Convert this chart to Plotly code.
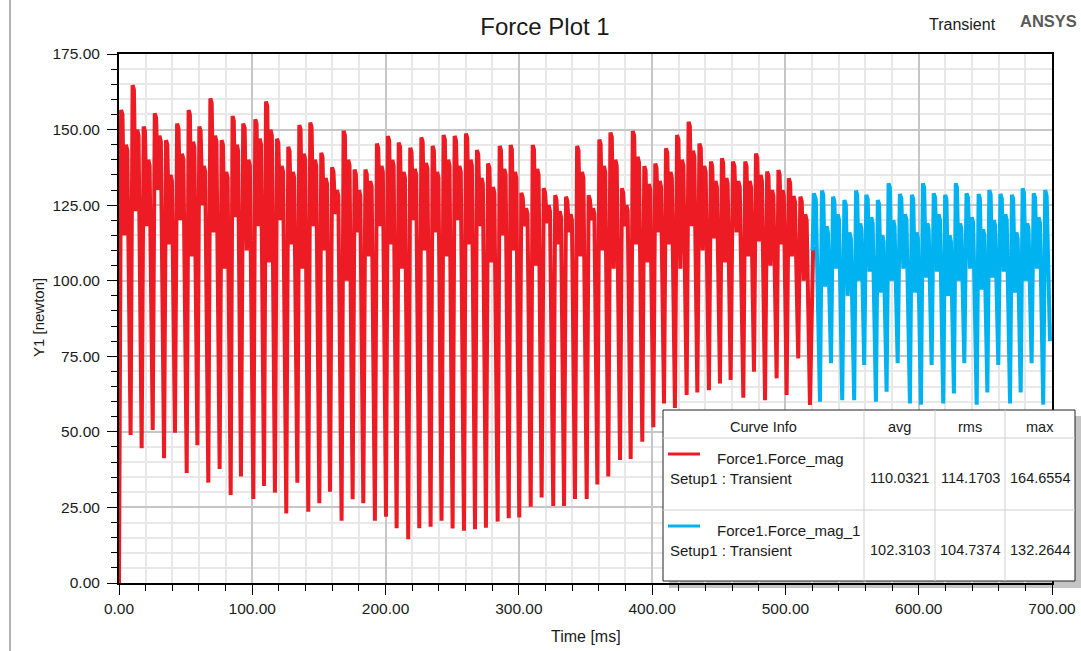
import plotly.graph_objects as go

# ---------------- data ----------------
# Red curve (Force1.Force_mag): deep troughs (time ms, newton)
red_trough_t = [0, 8.7, 17.0, 25.3, 33.8, 42.0, 50.8, 58.8, 67.0, 75.5,
                83.8, 91.5, 100.8, 108.8, 117.0, 125.5, 133.8, 142.0, 150.3, 158.3,
                167.0, 175.3, 183.3, 192.0, 200.3, 208.3, 217.0, 225.3, 233.8, 242.0,
                250.3, 258.8, 267.1, 275.3, 284.1, 292.4, 300.3, 308.9, 317.1, 325.8,
                333.9, 342.1, 350.9, 358.9, 367.1, 375.9, 383.9, 392.6, 400.9, 408.9,
                417.1, 425.9, 433.9, 442.6, 450.9, 458.9, 468.4, 476.4, 484.7, 493.4,
                500.9, 509.6, 518.4]
red_trough_v = [0, 49, 44.6, 50.6, 41.3, 49.7, 36.4, 45.6, 33.2, 37.7,
                29.1, 35.2, 27.8, 32.1, 29.9, 23.0, 33.2, 23.6, 26.4, 30.2,
                20.6, 27.7, 26.4, 20.6, 21.9, 18.1, 14.5, 18.1, 18.6, 20.6,
                18.0, 17.3, 17.8, 18.3, 20.3, 21.4, 21.7, 25.2, 28.3, 25.5,
                25.5, 27.8, 27.8, 32.6, 35.2, 40.7, 41.0, 46.7, 51.5, 59.4,
                57.9, 62.2, 63.0, 63.8, 66.0, 67.2, 61.3, 69.9, 60.5, 67.7,
                62.2, 74.3, 58.9]
# per cycle: main peak, inner dip, second peak
red_peak_v = [156.5, 164.7, 151, 155.4, 146.5, 152, 156.5, 151, 160.3, 146.5,
              154.5, 152, 153.4, 159.3, 147, 144.3, 151.5, 152.3, 142.3, 137.5,
              149.6, 136.8, 136.8, 145.4, 147.9, 145.7, 144, 147.4, 144.6, 148.2,
              147.9, 148.7, 143.2, 138.8, 144.6, 144.9, 129.1, 144.9, 130.6, 128.3,
              127.8, 144.6, 128.3, 146.7, 149, 130.6, 149.5, 137.9, 138.8, 143.8,
              148.2, 152.6, 145.4, 139.4, 140.5, 139.4, 139.4, 142.1, 136.1, 136.6,
              133.9, 127.8]
red_mid_v = [115, 123, 118, 130, 112, 120, 108, 125, 116, 104,
             121, 110, 118, 106, 120, 112, 104, 118, 110, 122,
             100, 116, 108, 118, 112, 104, 120, 110, 116, 108,
             120, 112, 118, 106, 115, 110, 118, 105, 119, 112,
             116, 108, 120, 110, 104, 118, 112, 106, 116, 112,
             104, 118, 110, 114, 106, 116, 108, 113, 105, 112,
             108, 100]
red_peak2_v = [145, 150, 140, 148, 135, 142, 146, 138, 148, 136,
               145, 140, 147, 150, 138, 136, 142, 140, 134, 130,
               140, 130, 133, 138, 140, 136, 137, 139, 136, 140,
               138, 140, 134, 131, 137, 136, 124, 137, 125, 123,
               122, 136, 124, 138, 140, 125, 141, 132, 133, 136,
               140, 143, 138, 133, 134, 133, 133, 135, 130, 130,
               128, 122]
red_end = (520.8, 111.2)

# Blue curve (Force1.Force_mag_1)
blue_start = (520.3, 110.0)
blue_first_peak = 128.9
blue_trough_t = [525.9, 534.2, 542.6, 551.6, 559.1, 567.9, 575.9, 584.2, 593.4, 601.7,
                 609.7, 618.4, 626.4, 634.2, 643.5, 651.5, 659.7, 668.5, 676.5, 684.7,
                 693.4]
blue_trough_v = [60, 72.7, 60.5, 60.5, 72.1, 60, 63.3, 72.7, 59.4, 59,
                 72.1, 59.4, 62.7, 72.7, 59, 63, 72.1, 59.4, 63, 72.7,
                 59]
blue_peak_v = [129.8, 127.8, 126.7, 129.8, 128.4, 126.7, 132.2, 128.7, 128.4, 132.2,
               128.9, 128.4, 132.2, 128.9, 128.7, 130, 128.7, 128.4, 130.6, 128.9]
blue_mid_v = [98, 104, 95, 100, 103, 96, 100, 104, 96, 101,
              103, 95, 100, 104, 97, 101, 103, 96, 100, 104]
blue_peak2_v = [118, 122, 116, 119, 121, 115, 120, 122, 116, 119,
                122, 115, 119, 121, 117, 120, 122, 116, 119, 121]
blue_last_peak = 130.0
blue_end = (698.5, 80.0)

# legend table
table_header = ["Curve Info", "avg", "rms", "max"]
curve_names = ["Force1.Force_mag", "Force1.Force_mag_1"]
curve_setup = ["Setup1 : Transient", "Setup1 : Transient"]
curve_avg = ["110.0321", "102.3103"]
curve_rms = ["114.1703", "104.7374"]
curve_max = ["164.6554", "132.2644"]

RED = "#ed1c24"
BLUE = "#00b2f0"
TXT = "#1a1a1a"

# where inside a cycle the peak, its plateau end, the dip, the 2nd peak and its plateau end sit
PH = [0.18, 0.3, 0.46, 0.6, 0.72]


def build(tt, tv, pk, md, pk2):
    xs, ys = [], []
    for i in range(len(tt) - 1):
        t0, d = tt[i], tt[i + 1] - tt[i]
        xs += [t0] + [t0 + f * d for f in PH]
        ys += [tv[i], pk[i], pk[i] - 1.5, md[i], pk2[i], pk2[i] - 2]
    xs.append(tt[-1])
    ys.append(tv[-1])
    return xs, ys


rx, ry = build(red_trough_t, red_trough_v, red_peak_v, red_mid_v, red_peak2_v)
rx.append(red_end[0]); ry.append(red_end[1])

bx, by = build(blue_trough_t, blue_trough_v, blue_peak_v, blue_mid_v, blue_peak2_v)
bx = [blue_start[0], blue_start[0] + 1.0, blue_start[0] + 2.5] + bx + \
     [blue_trough_t[-1] + 1.5, blue_trough_t[-1] + 2.6, blue_end[0]]
by = [blue_start[1], blue_first_peak, blue_first_peak - 2] + by + \
     [blue_last_peak, blue_last_peak - 2, blue_end[1]]

fig = go.Figure()
fig.add_trace(go.Scatter(x=rx, y=ry, mode="lines", line=dict(color=RED, width=4),
                         name=curve_names[0], hoverinfo="skip"))
fig.add_trace(go.Scatter(x=bx, y=by, mode="lines", line=dict(color=BLUE, width=4),
                         name=curve_names[1], hoverinfo="skip"))

# ---------------- layout ----------------
W, H = 1081, 651
L, R, T, B = 119, 1052, 54, 583


def px(x):
    return (x - L) / (R - L)


def py(y):
    return (B - y) / (B - T)


axis_common = dict(
    showgrid=True, gridcolor="#c6c6c6", gridwidth=2,
    ticks="outside", tickcolor="black", tickwidth=1,
    showline=True, linecolor="black", linewidth=2, mirror=True,
    zeroline=False, tickformat=".2f", automargin=False,
    tickfont=dict(size=15.5, color=TXT),
)

fig.update_layout(
    width=W, height=H,
    margin=dict(l=L, r=W - R, t=T, b=H - B, autoexpand=False),
    paper_bgcolor="white", plot_bgcolor="white",
    showlegend=False,
    font=dict(family="Liberation Sans, Arial, sans-serif", color=TXT),
    title=dict(text="Force Plot 1", x=545 / W, xanchor="center",
               y=1 - 27 / H, yanchor="middle", yref="container",
               font=dict(size=24, color=TXT)),
    xaxis=dict(range=[0, 700], dtick=100, tick0=0, ticklen=10,
               minor=dict(dtick=20, showgrid=True, gridcolor="#e8e8e8", gridwidth=1.5,
                          ticks="outside", ticklen=6, tickcolor="black"),
               **axis_common),
    yaxis=dict(range=[0, 175], dtick=25, tick0=0, ticklen=10, ticklabelstandoff=4,
               minor=dict(dtick=5, showgrid=True, gridcolor="#e8e8e8", gridwidth=1.5,
                          ticks="outside", ticklen=6, tickcolor="black"),
               **axis_common),
)

annotations = [
    dict(text="Time [ms]", x=px(586), y=py(636), font=dict(size=16)),
    dict(text="Y1 [newton]", x=px(38), y=py(318), textangle=-90, font=dict(size=15)),
    dict(text="Transient", x=px(962), y=py(25), font=dict(size=16)),
    dict(text="<b>ANSYS</b>", x=px(1048), y=py(21), font=dict(size=16.5, color="#5a5a5a")),
]

shapes = [
    dict(type="line", x0=px(10), x1=px(10), y0=py(0), y1=py(H), xref="paper", yref="paper",
         line=dict(color="#666", width=1)),
]

# legend table geometry (pixels)
tx0, tx1, ty0, ty1 = 663, 1075, 410, 581
cols = [663, 864, 935, 1005, 1075]
rows = [410, 438, 510, 581]

shapes.append(dict(type="rect", xref="paper", yref="paper", layer="below",
                   x0=px(tx0 + 6), x1=px(tx1 + 6), y0=py(ty0 + 6), y1=py(ty1 + 7),
                   fillcolor="#c4c4c4", line=dict(width=0)))
shapes.append(dict(type="rect", xref="paper", yref="paper", layer="above",
                   x0=px(tx0), x1=px(tx1), y0=py(ty0), y1=py(ty1),
                   fillcolor="white", line=dict(color="#222", width=1)))
for cx in cols[1:-1]:
    shapes.append(dict(type="line", xref="paper", yref="paper", layer="above",
                       x0=px(cx), x1=px(cx), y0=py(ty0), y1=py(ty1),
                       line=dict(color="#cfcfcf", width=1)))
for ry_ in rows[1:-1]:
    shapes.append(dict(type="line", xref="paper", yref="paper", layer="above",
                       x0=px(tx0), x1=px(tx1), y0=py(ry_), y1=py(ry_),
                       line=dict(color="#cfcfcf", width=1)))
for i, c in enumerate([RED, BLUE]):
    ly = 454 + i * 72
    shapes.append(dict(type="line", xref="paper", yref="paper", layer="above",
                       x0=px(668), x1=px(700), y0=py(ly), y1=py(ly),
                       line=dict(color=c, width=3)))

centers = [(cols[k] + cols[k + 1]) / 2 for k in range(4)]
for k, h in enumerate(table_header):
    annotations.append(dict(text=h, x=px(centers[k]), y=py(427), font=dict(size=14.5)))
for i in range(2):
    base = 458 + i * 72
    annotations.append(dict(text=curve_names[i], x=px(715), y=py(base), xanchor="left",
                            font=dict(size=15)))
    annotations.append(dict(text=curve_setup[i], x=px(668), y=py(base + 20), xanchor="left",
                            font=dict(size=15)))
    for k, v in enumerate([curve_avg[i], curve_rms[i], curve_max[i]]):
        annotations.append(dict(text=v, x=px(centers[k + 1]), y=py(base + 20),
                                font=dict(size=14.5)))

for a in annotations:
    a.setdefault("xref", "paper")
    a.setdefault("yref", "paper")
    a.setdefault("showarrow", False)
    a.setdefault("xanchor", "center")
    a.setdefault("yanchor", "middle")

fig.update_layout(annotations=annotations, shapes=shapes)
fig.write_html("out.html")
